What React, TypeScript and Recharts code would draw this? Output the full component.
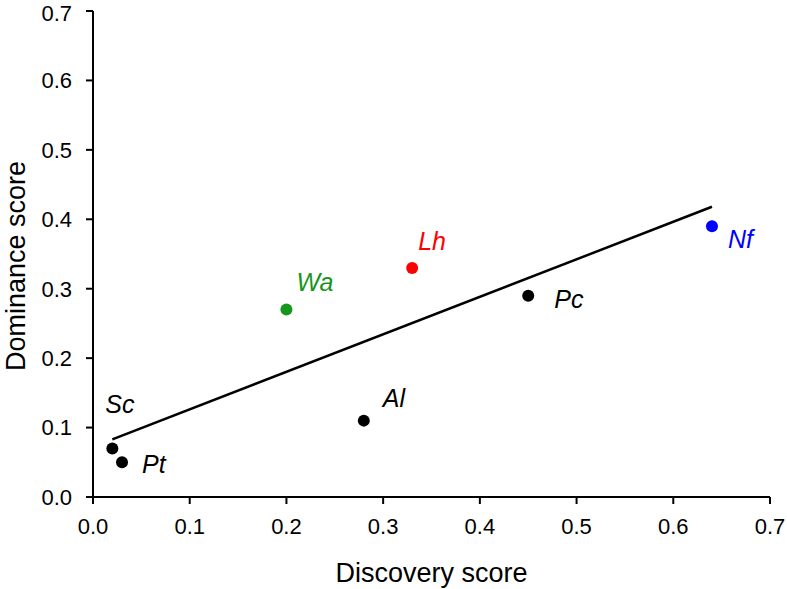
import React from "react";
import { ScatterChart, Scatter, XAxis, YAxis, Cell } from "recharts";

const species = ["Sc", "Pt", "Wa", "Lh", "Al", "Pc", "Nf"];
const discovery = [0.02, 0.03, 0.2, 0.33, 0.28, 0.45, 0.64];
const dominance = [0.07, 0.05, 0.27, 0.33, 0.11, 0.29, 0.39];
const pointColors = ["#000000", "#000000", "#16961a", "#ff0000", "#000000", "#000000", "#0000ff"];

const trendX = [0.02, 0.64];
const trendY = [0.083, 0.418];

const axisTicks = [0, 0.1, 0.2, 0.3, 0.4, 0.5, 0.6, 0.7];

// label offsets (dx, dy to text baseline-left) relative to each point, keyed by species
const labelOffsets: Record<string, [number, number]> = {
  Sc: [-7, -35],
  Pt: [20, 11],
  Wa: [10, -19],
  Lh: [6, -18],
  Al: [19, -14],
  Pc: [26, 12],
  Nf: [16, 22],
};

const points = species.map((name, i) => ({
  name,
  x: discovery[i],
  y: dominance[i],
  color: pointColors[i],
}));
const trend = trendX.map((x, i) => ({ x, y: trendY[i] }));

const FONT = "'Liberation Sans', Arial, Helvetica, sans-serif";

const PointShape = (props: any) => {
  const { cx, cy, payload } = props;
  const [dx, dy] = labelOffsets[payload.name] || [10, -10];
  return (
    <g>
      <circle cx={cx} cy={cy} r={6} fill={payload.color} />
      <text
        x={cx + dx}
        y={cy + dy}
        fill={payload.color}
        fontStyle="italic"
        fontSize={25}
        fontFamily={FONT}
      >
        {payload.name}
      </text>
    </g>
  );
};

const XLabel = (props: any) => {
  const vb = props.viewBox || {};
  return (
    <text
      x={vb.x + vb.width / 2}
      y={582}
      textAnchor="middle"
      fontSize={27}
      fontFamily={FONT}
      fill="#000"
    >
      Discovery score
    </text>
  );
};

const YLabel = () => (
  <text
    x={0}
    y={0}
    transform="translate(25, 266) rotate(-90)"
    textAnchor="middle"
    fontSize={27}
    fontFamily={FONT}
    fill="#000"
  >
    Dominance score
  </text>
);

export default function App() {
  return (
    <div style={{ position: "absolute", left: 0, top: 0, width: 787, height: 589, background: "#fff" }}>
      <ScatterChart
        width={787}
        height={589}
        margin={{ top: 11, right: 17, bottom: 0, left: 0 }}
      >
        <XAxis
          type="number"
          dataKey="x"
          domain={[0, 0.7]}
          ticks={axisTicks}
          tickFormatter={(v: number) => v.toFixed(1)}
          height={92}
          axisLine={{ stroke: "#000", strokeWidth: 2 }}
          tickLine={{ stroke: "#000", strokeWidth: 2 }}
          tickSize={7}
          tickMargin={14}
          tick={{ fill: "#000", fontSize: 22, fontFamily: FONT }}
          allowDataOverflow
          label={<XLabel />}
        />
        <YAxis
          type="number"
          dataKey="y"
          domain={[0, 0.7]}
          ticks={axisTicks}
          tickFormatter={(v: number) => v.toFixed(1)}
          width={93}
          axisLine={{ stroke: "#000", strokeWidth: 2 }}
          tickLine={{ stroke: "#000", strokeWidth: 2 }}
          tickSize={7}
          tickMargin={14}
          tick={{ fill: "#000", fontSize: 22, fontFamily: FONT }}
          allowDataOverflow
          label={<YLabel />}
        />
        <Scatter
          data={trend}
          line={{ stroke: "#000", strokeWidth: 2.5 }}
          shape={() => <g />}
          isAnimationActive={false}
        />
        <Scatter data={points} shape={<PointShape />} isAnimationActive={false}>
          {points.map((p, i) => (
            <Cell key={i} fill={p.color} />
          ))}
        </Scatter>
      </ScatterChart>
    </div>
  );
}
